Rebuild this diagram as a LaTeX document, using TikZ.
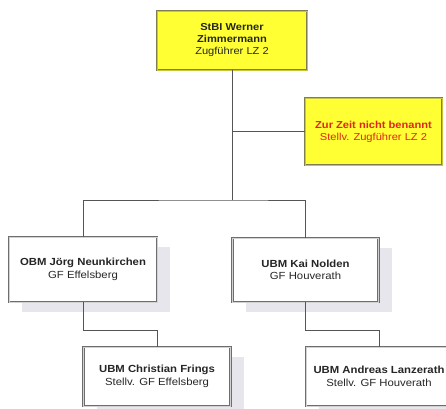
\documentclass[tikz,border=0pt]{standalone}
\usepackage{fontspec}
\setmainfont{Liberation Sans}[FakeStretch=1.1]
\usetikzlibrary{positioning,calc}
\definecolor{boxyellow}{HTML}{FFFF33}
\definecolor{olivefr}{HTML}{7E7E52}
\definecolor{framegray}{HTML}{6E6E6E}
\definecolor{shadowgray}{HTML}{E6E6EC}
\definecolor{redtext}{HTML}{E0261C}
\definecolor{linegray}{HTML}{555555}
\tikzset{
  orgbox/.style={draw=framegray, line width=0.8pt, double=gray!35, double distance=0.8pt,
    fill=white, align=center, inner sep=0pt, font=\fontsize{10.3}{12.6}\selectfont,
    text=black!85},
  shadowed/.style={preaction={fill=shadowgray, draw=none, transform canvas={shift={(13pt,-10pt)}}}},
  yellowbox/.style={orgbox, draw=olivefr, fill=boxyellow, double=olivefr!45!boxyellow,
    font=\fontsize{10.1}{12}\selectfont},
  conn/.style={draw=linegray, line width=0.9pt}
}
\begin{document}
\begin{tikzpicture}[x=1pt,y=-1pt]
\useasboundingbox[fill=white] (0,0) rectangle (446,408);
\coordinate (j) at (232,200);
\coordinate (kl) at (83,330);
\coordinate (kr) at (305.5,330);
\node[yellowbox, minimum width=150pt, minimum height=59pt] (top) at (232,40.5)
  {\textbf{StBI Werner}\\\textbf{Zimmermann}\\Zugführer LZ 2};
\node[yellowbox, minimum width=137pt, minimum height=67pt, text=redtext] (side) at (373.5,131.5)
  {\textbf{Zur Zeit nicht benannt}\\Stellv. Zugführer LZ 2};
\node[orgbox, shadowed, minimum width=148pt, minimum height=65pt] (lm) at (83,269.5)
  {\textbf{OBM Jörg Neunkirchen}\\GF Effelsberg};
\node[orgbox, shadowed, minimum width=146pt, minimum height=64pt] (rm) at (305.5,270)
  {\textbf{UBM Kai Nolden}\\GF Houverath};
\node[orgbox, shadowed, minimum width=147pt, minimum height=59pt] (bl) at (157,376.5)
  {\textbf{UBM Christian Frings}\\Stellv. GF Effelsberg};
\node[orgbox, shadowed, minimum width=146pt, minimum height=59pt] (br) at (379,376.5)
  {\textbf{UBM Andreas Lanzerath}\\Stellv. GF Houverath};
\draw[conn] (top.south) -- (j);
\draw[conn] (side.west) -- (side.west -| top.south);
\draw[conn] (lm.north) |- (j) -| (rm.north);
\draw[conn] (lm.south) -- (kl) -| (bl.north);
\draw[conn] (rm.south) -- (kr) -| (br.north);
\end{tikzpicture}
\end{document}
